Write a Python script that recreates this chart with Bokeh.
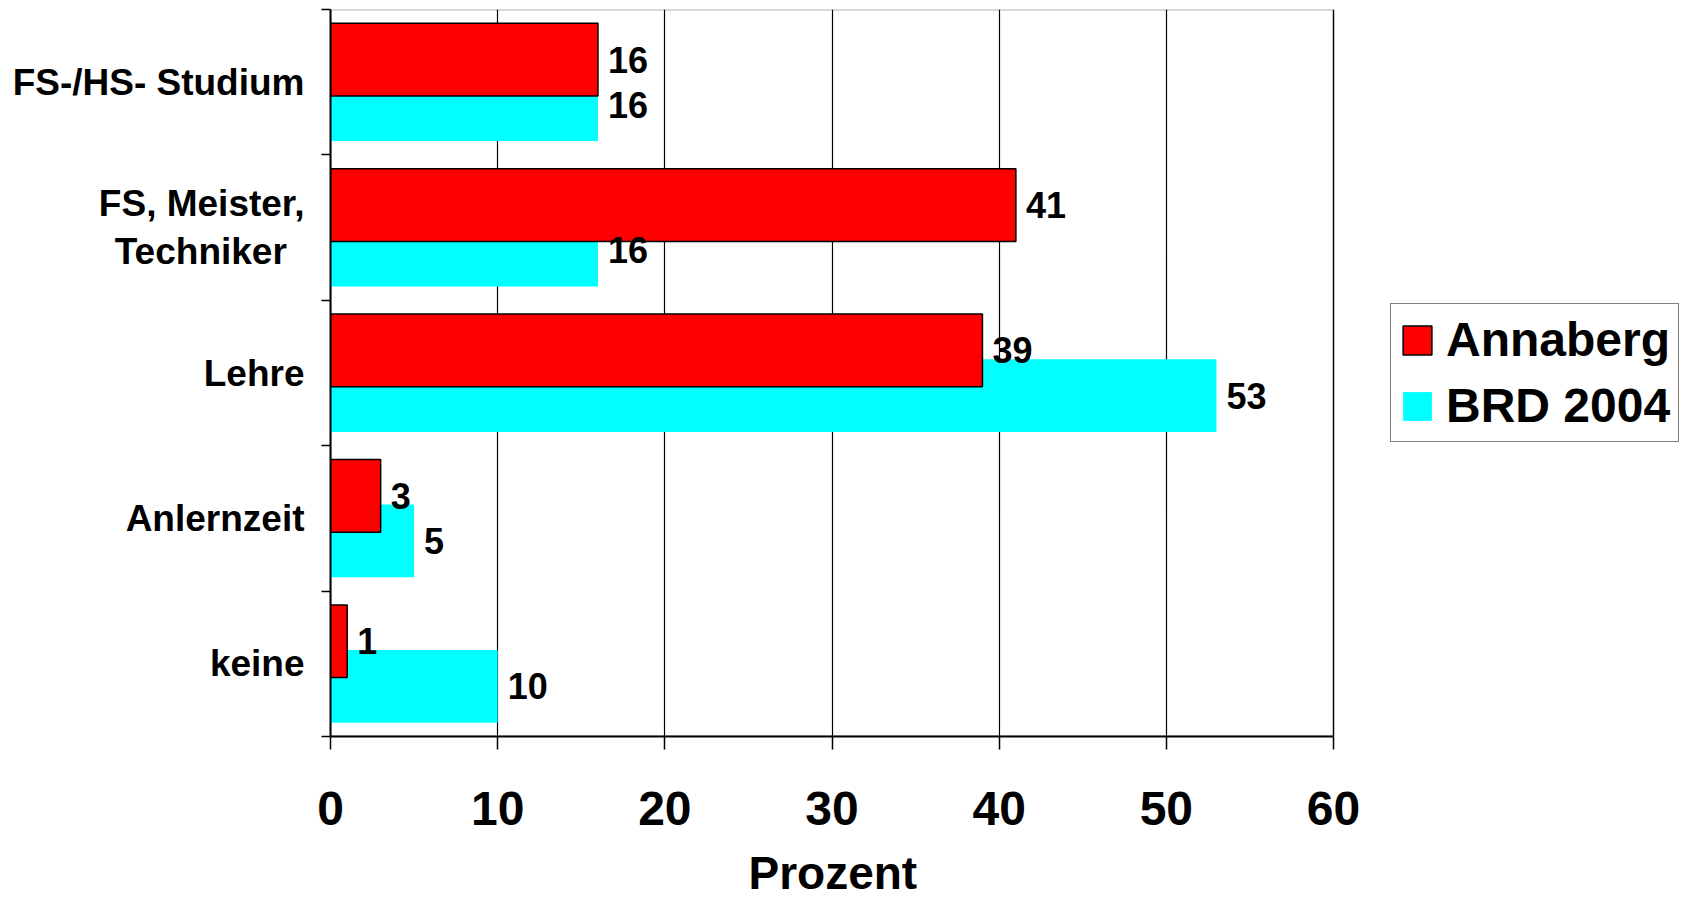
from bokeh.plotting import figure
from bokeh.models import (ColumnDataSource, FixedTicker, Range1d, Legend, LegendItem,
                          BoxAnnotation, Title)
from bokeh.transform import dodge
from bokeh.core.properties import value
from bokeh.embed import file_html
from bokeh.resources import INLINE

# ---- data (top to bottom) ----
categories = ["FS-/HS- Studium", "FS, Meister,\nTechniker\u00a0\u2009", "Lehre", "Anlernzeit", "keine"]
series_names = ["Annaberg", "BRD 2004"]
annaberg = [16, 41, 39, 3, 1]
brd2004 = [16, 16, 53, 5, 10]
x_ticks = [0, 10, 20, 30, 40, 50, 60]
x_label = "Prozent"

n = len(categories)
pos = [n - i - 0.5 for i in range(n)]
boundaries = list(range(n + 1))

src = ColumnDataSource(dict(
    y=pos, a=annaberg, b=brd2004,
    a_lab=[str(v) for v in annaberg], b_lab=[str(v) for v in brd2004],
))

FONT = "Liberation Sans"
RED = "#FF0000"
CYAN = "#00FFFF"

W, H = 1682, 915
LEFT, RIGHT60 = 330, 1333          # pixel positions of value 0 and 60
x_min, x_max = x_ticks[0], x_ticks[-1]
# frame runs to the right edge so the legend can sit inside it
x_end = x_max * (W - LEFT) / (RIGHT60 - LEFT)

p = figure(width=W, height=H, x_range=Range1d(x_min, x_end), y_range=Range1d(0, n),
           output_backend="svg", toolbar_location=None,
           min_border_left=LEFT, min_border_right=0, min_border_top=9,
           min_border_bottom=H - 736)

p.background_fill_color = "white"
p.border_fill_color = "white"
p.outline_line_color = None

off = 0.155
cyan = p.hbar(y=dodge("y", -off), left=0, right="b", height=0.5, source=src,
              fill_color=CYAN, line_color=None)
red = p.hbar(y=dodge("y", off), left=0, right="a", height=0.5, source=src,
             fill_color=RED, line_color="black", line_width=1.5)

for col, lab, o in (("a", "a_lab", off), ("b", "b_lab", -off)):
    p.text(x=col, y=dodge("y", o), text=lab, source=src, x_offset=10,
           text_align="left", text_baseline="middle",
           text_font=value(FONT), text_font_style="bold", text_font_size="36px",
           text_color="black")

# plot-area border (0..60)
p.add_layout(BoxAnnotation(left=x_min, right=x_max, bottom=0, top=n,
                           fill_alpha=0, line_color="black", line_width=2,
                           level="underlay"))

# x axis
p.xaxis.bounds = (x_min, x_max)
p.xaxis.ticker = FixedTicker(ticks=x_ticks)
p.xaxis.major_tick_out = 13
p.xaxis.major_tick_in = 0
p.xaxis.minor_tick_out = 0
p.xaxis.minor_tick_in = 0
p.xaxis.major_tick_line_width = 1.5
p.xaxis.axis_line_width = 2
p.xaxis.major_label_text_font = FONT
p.xaxis.major_label_text_font_style = "bold"
p.xaxis.major_label_text_font_size = "48px"
p.xaxis.major_label_text_color = "black"
p.xaxis.major_label_standoff = 42

# axis title, centred under 0..60
title = Title(text=x_label, align="left", offset=418, standoff=34,
              text_font=FONT, text_font_style="bold", text_font_size="46px",
              text_color="black")
p.add_layout(title, "below")

# y axis: labels at category centres, ticks at category boundaries
p.yaxis.ticker = FixedTicker(ticks=pos, minor_ticks=boundaries)
p.yaxis.major_label_overrides = {pv: c for pv, c in zip(pos, categories)}
p.yaxis.major_tick_out = 0
p.yaxis.major_tick_in = 0
p.yaxis.minor_tick_out = 9
p.yaxis.minor_tick_in = 0
p.yaxis.minor_tick_line_width = 1.5
p.yaxis.axis_line_width = 2
p.yaxis.major_label_text_font = FONT
p.yaxis.major_label_text_font_style = "bold"
p.yaxis.major_label_text_font_size = "37px"
p.yaxis.major_label_text_color = "black"
p.yaxis.major_label_text_line_height = 1.16
p.yaxis.major_label_standoff = 17

p.xgrid.ticker = FixedTicker(ticks=x_ticks)
p.xgrid.grid_line_color = "black"
p.xgrid.grid_line_width = 1.2
p.ygrid.grid_line_color = None

legend = Legend(items=[LegendItem(label=series_names[0], renderers=[red]),
                       LegendItem(label=series_names[1], renderers=[cyan])],
                location=(1060, 294))
legend.label_text_font = FONT
legend.label_text_font_style = "bold"
legend.label_text_font_size = "48px"
legend.label_text_color = "black"
legend.glyph_width = 36
legend.glyph_height = 36
legend.label_standoff = 11
legend.padding = 8
legend.spacing = 11
legend.margin = 0
legend.border_line_color = "black"
legend.border_line_width = 1.5
legend.background_fill_color = "white"
legend.background_fill_alpha = 1
p.add_layout(legend, "center")

open("out.html", "w").write(file_html(p, INLINE))
